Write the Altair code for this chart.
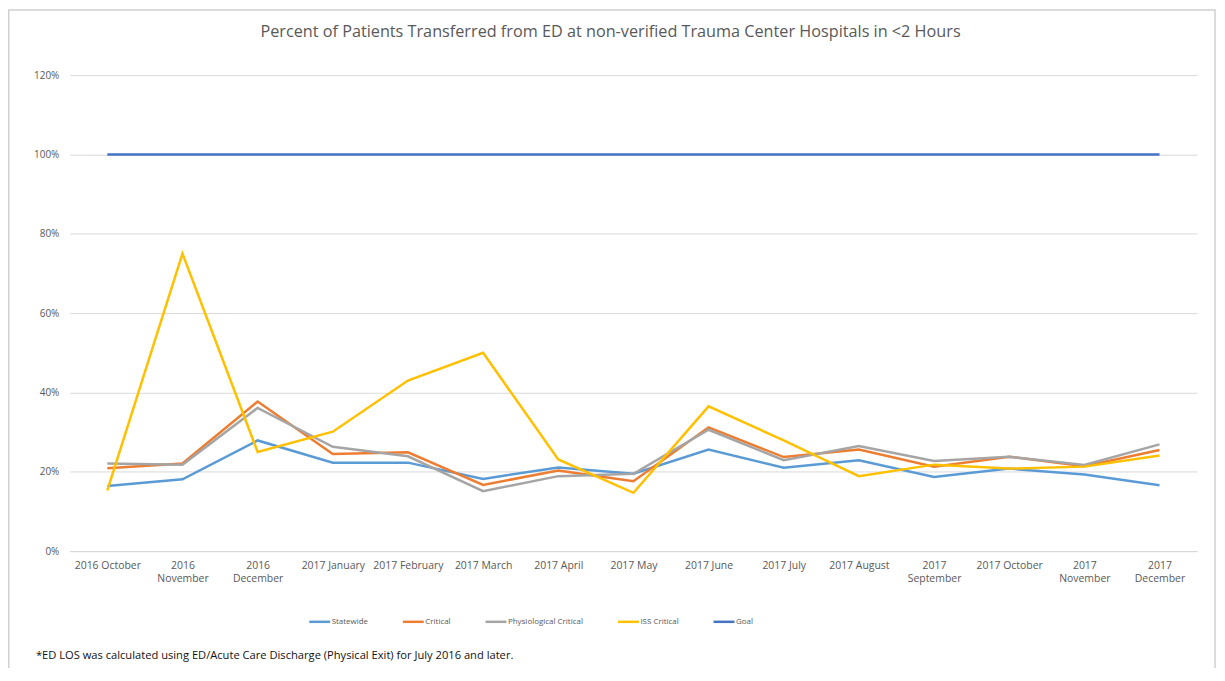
import altair as alt
import pandas as pd

months = ["2016 October", "2016 November", "2016 December", "2017 January", "2017 February",
          "2017 March", "2017 April", "2017 May", "2017 June", "2017 July", "2017 August",
          "2017 September", "2017 October", "2017 November", "2017 December"]
wrapped = ["2016 November", "2016 December", "2017 September", "2017 November", "2017 December"]

statewide = [16.4, 18.1, 27.9, 22.3, 22.3, 18.2, 21.1, 19.5, 25.6, 21.0, 22.9, 18.7, 20.8, 19.3, 16.6]
critical = [20.9, 22.1, 37.7, 24.5, 24.9, 16.7, 20.3, 17.6, 31.2, 23.7, 25.6, 21.3, 23.8, 21.4, 25.5]
physiological = [22.1, 21.8, 36.1, 26.3, 23.9, 15.1, 18.9, 19.5, 30.6, 22.9, 26.5, 22.7, 23.8, 21.7, 26.9]
iss_critical = [15.3, 75.0, 25.0, 30.1, 43.0, 50.0, 23.1, 14.7, 36.5, 27.9, 18.9, 21.8, 20.8, 21.3, 24.1]
goal = [100.0] * 15

series_names = ["Statewide", "Critical", "Physiological Critical", "ISS Critical", "Goal"]
series_colors = ["#5B9BD5", "#ED7D31", "#A5A5A5", "#FFC000", "#4472C4"]
series_values = [statewide, critical, physiological, iss_critical, goal]

title_text = "Percent of Patients Transferred from ED at non-verified Trauma Center Hospitals in <2 Hours"
footnote_text = "*ED LOS was calculated using ED/Acute Care Discharge (Physical Exit) for July 2016 and later."

rows = []
for si, (name, vals) in enumerate(zip(series_names, series_values)):
    for mi, (m, v) in enumerate(zip(months, vals)):
        rows.append({"Month": m, "Series": name, "Value": v / 100.0, "order": si})
df = pd.DataFrame(rows)

FONT = "Open Sans"
GRAY = "#595959"

wrap_list = "[" + ",".join("'" + w + "'" for w in wrapped) + "]"

lines = alt.Chart(df).mark_line(strokeWidth=2.5).encode(
    x=alt.X("Month:N", sort=months, scale=alt.Scale(paddingOuter=0.5, paddingInner=0),
            axis=alt.Axis(title=None, labelAngle=0, ticks=False, grid=False,
                          domainColor="#d9d9d9", domainWidth=1, labelPadding=9,
                          labelFontSize=10.5, labelColor=GRAY, labelFont=FONT,
                          labelLineHeight=14,
                          labelExpr="indexof(" + wrap_list + ", datum.value) >= 0 ? split(datum.value, ' ') : datum.value")),
    y=alt.Y("Value:Q", scale=alt.Scale(domain=[0, 1.2], nice=False),
            axis=alt.Axis(title=None, format=".0%", values=[0, 0.2, 0.4, 0.6, 0.8, 1.0, 1.2],
                          ticks=False, domain=False, gridColor="#d9d9d9", gridWidth=1,
                          labelPadding=11, labelFontSize=10, labelColor=GRAY, labelFont=FONT)),
    color=alt.Color("Series:N", sort=series_names,
                    scale=alt.Scale(domain=series_names, range=series_colors),
                    legend=alt.Legend(title=None, orient="none", direction="horizontal",
                                      legendX=239, legendY=537, symbolType="stroke",
                                      symbolSize=441, symbolStrokeWidth=2.5,
                                      labelFontSize=8, labelColor=GRAY, labelFont=FONT,
                                      labelOffset=0, columnPadding=29)),
    order=alt.Order("order:Q"),
)

title_mark = alt.Chart(pd.DataFrame({"t": [title_text]})).mark_text(
    align="center", baseline="middle", fontSize=16.3, color=GRAY, font=FONT
).encode(x=alt.value(543), y=alt.value(-43), text="t:N")

foot_mark = alt.Chart(pd.DataFrame({"t": [footnote_text]})).mark_text(
    align="left", baseline="middle", fontSize=11.2, color="#111111", font=FONT
).encode(x=alt.value(-34), y=alt.value(583), text="t:N")

frame = alt.Chart(pd.DataFrame({"a": [0]})).mark_rect(
    fill=None, stroke="#d0d0d0", strokeWidth=1.5
).encode(x=alt.value(-61.25), x2=alt.value(1150), y=alt.value(-65.25), y2=alt.value(700))

chart = alt.layer(frame, lines, title_mark, foot_mark).properties(
    width=1132, height=478,
    autosize=alt.AutoSizeParams(type="none"),
    padding={"left": 62, "top": 66, "right": 20, "bottom": 116},
).configure_view(stroke=None)

chart.save("out.html", embed_options={"renderer": "svg", "actions": False})
